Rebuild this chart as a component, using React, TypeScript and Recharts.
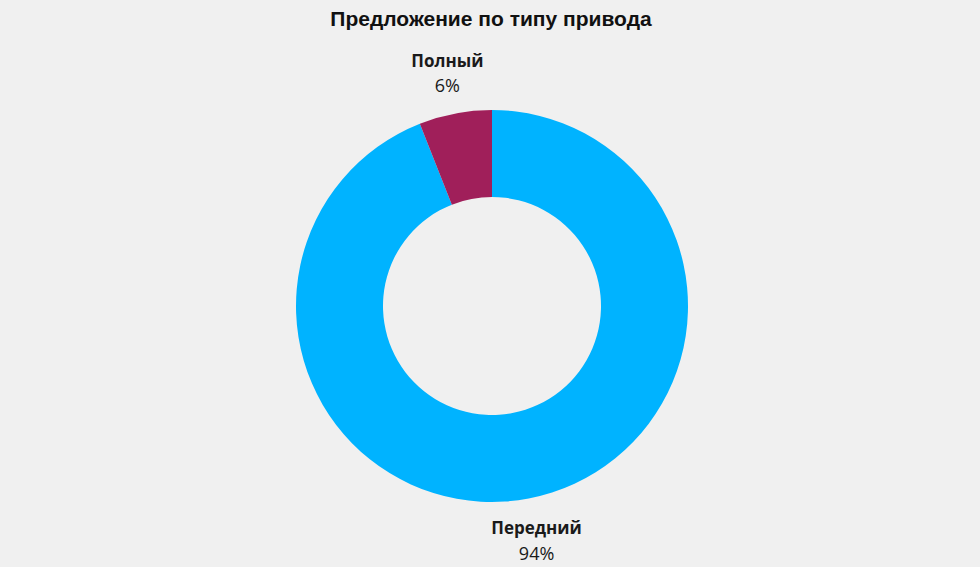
import { Pie, PieChart, Cell } from "recharts";

const driveTypes = ["Передний", "Полный"];
const driveShares = [94, 6];
const driveColors = ["#00b3ff", "#a01f5a"];

const data = driveTypes.map((name, i) => ({ name, value: driveShares[i] }));

const RAD = Math.PI / 180;

function renderLabel(props: any) {
  const { cx, cy, midAngle, name, value } = props;
  const r = 238;
  const x = cx + r * Math.cos(-midAngle * RAD);
  const y = cy + r * Math.sin(-midAngle * RAD);
  return (
    <g>
      <text
        x={x}
        y={y - 12}
        textAnchor="middle"
        dominantBaseline="central"
        fontFamily="'Open Sans', sans-serif"
        fontWeight={700}
        fontSize={17}
        fill="#1a1a1a"
      >
        {name}
      </text>
      <text
        x={x}
        y={y + 13}
        textAnchor="middle"
        dominantBaseline="central"
        fontFamily="'Open Sans', sans-serif"
        fontSize={18}
        fill="#1a1a1a"
      >
        {value}%
      </text>
    </g>
  );
}

export default function App() {
  return (
    <div style={{ position: "absolute", left: 0, top: 0, width: 980, height: 567, background: "#f0f0f0" }}>
      <PieChart width={980} height={567} margin={{ top: 0, right: 0, bottom: 0, left: 0 }}>
        <text
          x={491}
          y={18}
          textAnchor="middle"
          dominantBaseline="central"
          fontFamily="'Liberation Sans', Arial, sans-serif"
          fontWeight={700}
          fontSize={21}
          fill="#111"
        >
          Предложение по типу привода
        </text>
        <Pie
          data={data}
          dataKey="value"
          nameKey="name"
          cx={492}
          cy={306}
          innerRadius={109}
          outerRadius={196}
          startAngle={90}
          endAngle={-270}
          stroke="none"
          label={renderLabel}
          labelLine={false}
          isAnimationActive={false}
        >
          {data.map((d, i) => (
            <Cell key={d.name} fill={driveColors[i]} />
          ))}
        </Pie>
      </PieChart>
    </div>
  );
}
